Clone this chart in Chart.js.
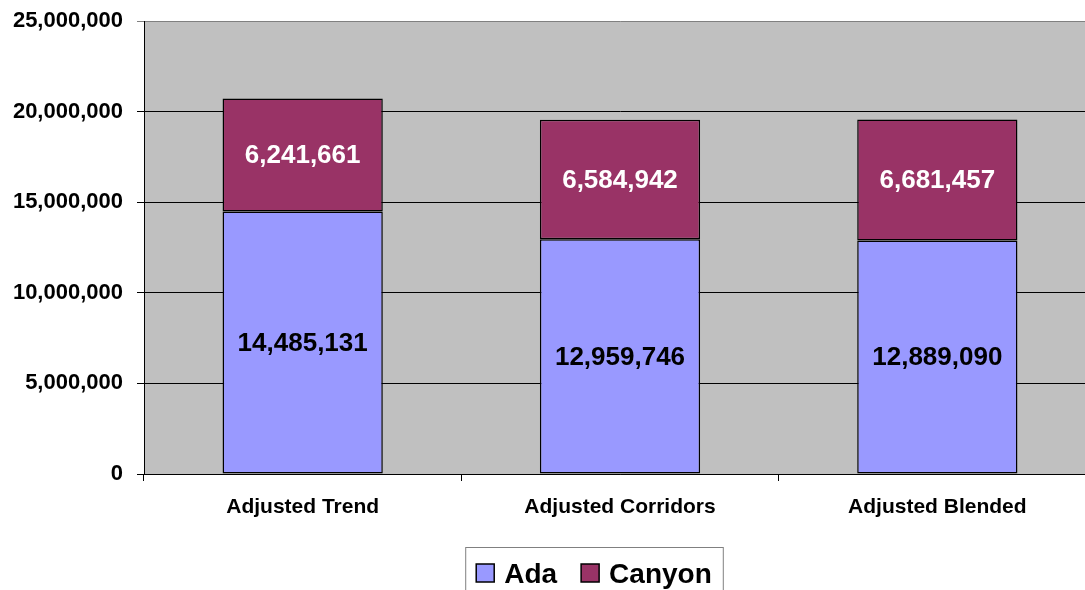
<!DOCTYPE html>
<html>
<head>
<meta charset="utf-8">
<script src="https://cdn.jsdelivr.net/npm/chart.js@4/dist/chart.umd.min.js"></script>
<style>
  html, body { margin: 0; background: #fff; overflow: hidden; }
  canvas { display: block; }
</style>
</head>
<body>
<!-- plot area runs a little past the right edge in the reference, so the canvas is wider than the window -->
<canvas id="myChart" width="1096" height="590"></canvas>
<script>
const categories = ['Adjusted Trend', 'Adjusted Corridors', 'Adjusted Blended'];
const adaValues = [14485131, 12959746, 12889090];
const canyonValues = [6241661, 6584942, 6681457];
const yTicks = [0, 5000000, 10000000, 15000000, 20000000, 25000000];

const FONT = '"Liberation Sans", Arial, sans-serif';

// grey plot area
const plotBackground = {
    id: 'plotBackground',
    beforeDraw(chart) {
        const a = chart.chartArea;
        const c = chart.ctx;
        c.save();
        c.fillStyle = '#c0c0c0';
        c.fillRect(a.left, a.top, a.right - a.left, a.bottom - a.top);
        c.restore();
    }
};

// value labels in the middle of each bar segment
const barLabels = {
    id: 'barLabels',
    afterDatasetsDraw(chart) {
        const c = chart.ctx;
        c.save();
        c.font = 'bold 26px ' + FONT;
        c.textAlign = 'center';
        c.textBaseline = 'middle';
        chart.data.datasets.forEach((ds, i) => {
            const meta = chart.getDatasetMeta(i);
            meta.data.forEach((bar, j) => {
                c.fillStyle = ds.labelColor;
                c.fillText(ds.data[j].toLocaleString('en-US'), bar.x, (bar.y + bar.base) / 2 + 1);
            });
        });
        c.restore();
    }
};

// boxed legend under the chart
const boxLegend = {
    id: 'boxLegend',
    afterDraw(chart) {
        const c = chart.ctx;
        c.save();
        c.font = 'bold 28px ' + FONT;
        const ds = chart.data.datasets;
        const sq = 18, gap = 10, between = 24, pad = 11;
        let w = pad * 2;
        ds.forEach((d, i) => {
            w += sq + gap + c.measureText(d.label).width + (i ? between : 0);
        });
        const centerX = 594;
        const top = 547;
        let x = centerX - w / 2;
        c.fillStyle = '#fff';
        c.fillRect(x, top, w, 60);
        c.strokeStyle = '#808080';
        c.lineWidth = 1;
        c.strokeRect(x + 0.5, top + 0.5, w, 60);
        x += pad;
        ds.forEach((d, i) => {
            if (i) x += between;
            c.fillStyle = d.backgroundColor;
            c.fillRect(x, 564, sq, sq);
            c.strokeStyle = '#000';
            c.lineWidth = 1.5;
            c.strokeRect(x, 564, sq, sq);
            x += sq + gap;
            c.fillStyle = '#000';
            c.textBaseline = 'alphabetic';
            c.fillText(d.label, x, 583);
            x += c.measureText(d.label).width;
        });
        c.restore();
    }
};

new Chart(document.getElementById('myChart'), {
    type: 'bar',
    data: {
        labels: categories,
        datasets: [
            {
                label: 'Ada',
                data: adaValues,
                backgroundColor: '#9999ff',
                borderColor: '#000',
                borderWidth: 1.5,
                borderSkipped: false,
                labelColor: '#000',
            },
            {
                label: 'Canyon',
                data: canyonValues,
                backgroundColor: '#993366',
                borderColor: '#000',
                borderWidth: 1.5,
                borderSkipped: false,
                labelColor: '#fff',
            },
        ],
    },
    plugins: [plotBackground, barLabels, boxLegend],
    options: {
        responsive: false,
        animation: false,
        layout: {
            padding: 0
        },
        datasets: {
            bar: {
                categoryPercentage: 1,
                barPercentage: 0.505,
            }
        },
        plugins: {
            legend: { display: false },
            tooltip: { enabled: false },
        },
        scales: {
            x: {
                stacked: true,
                grid: {
                    offset: true,
                    drawOnChartArea: false,
                    tickLength: 7,
                    color: '#000',
                },
                border: { color: '#000', width: 1 },
                ticks: {
                    color: '#000',
                    padding: 14,
                    maxRotation: 0,
                    font: { family: FONT, weight: 'bold', size: 21 },
                },
                afterFit(scale) { scale.height = 116; },
            },
            y: {
                stacked: true,
                min: 0,
                max: 25000000,
                afterBuildTicks(scale) {
                    scale.ticks = yTicks.map(v => ({ value: v }));
                },
                grid: {
                    tickLength: 7,
                    color: ctx => (ctx.tick && ctx.tick.value === 25000000) ? '#808080' : '#000',
                    lineWidth: 1,
                },
                border: { color: '#000', width: 1 },
                ticks: {
                    color: '#000',
                    padding: 14,
                    font: { family: FONT, weight: 'bold', size: 22, lineHeight: 0.93 },
                    callback: v => v.toLocaleString('en-US'),
                },
                afterFit(scale) {
                    scale.width = 144;
                    scale.paddingTop = 21;
                },
            }
        },
    },
});
</script>
</body>
</html>
